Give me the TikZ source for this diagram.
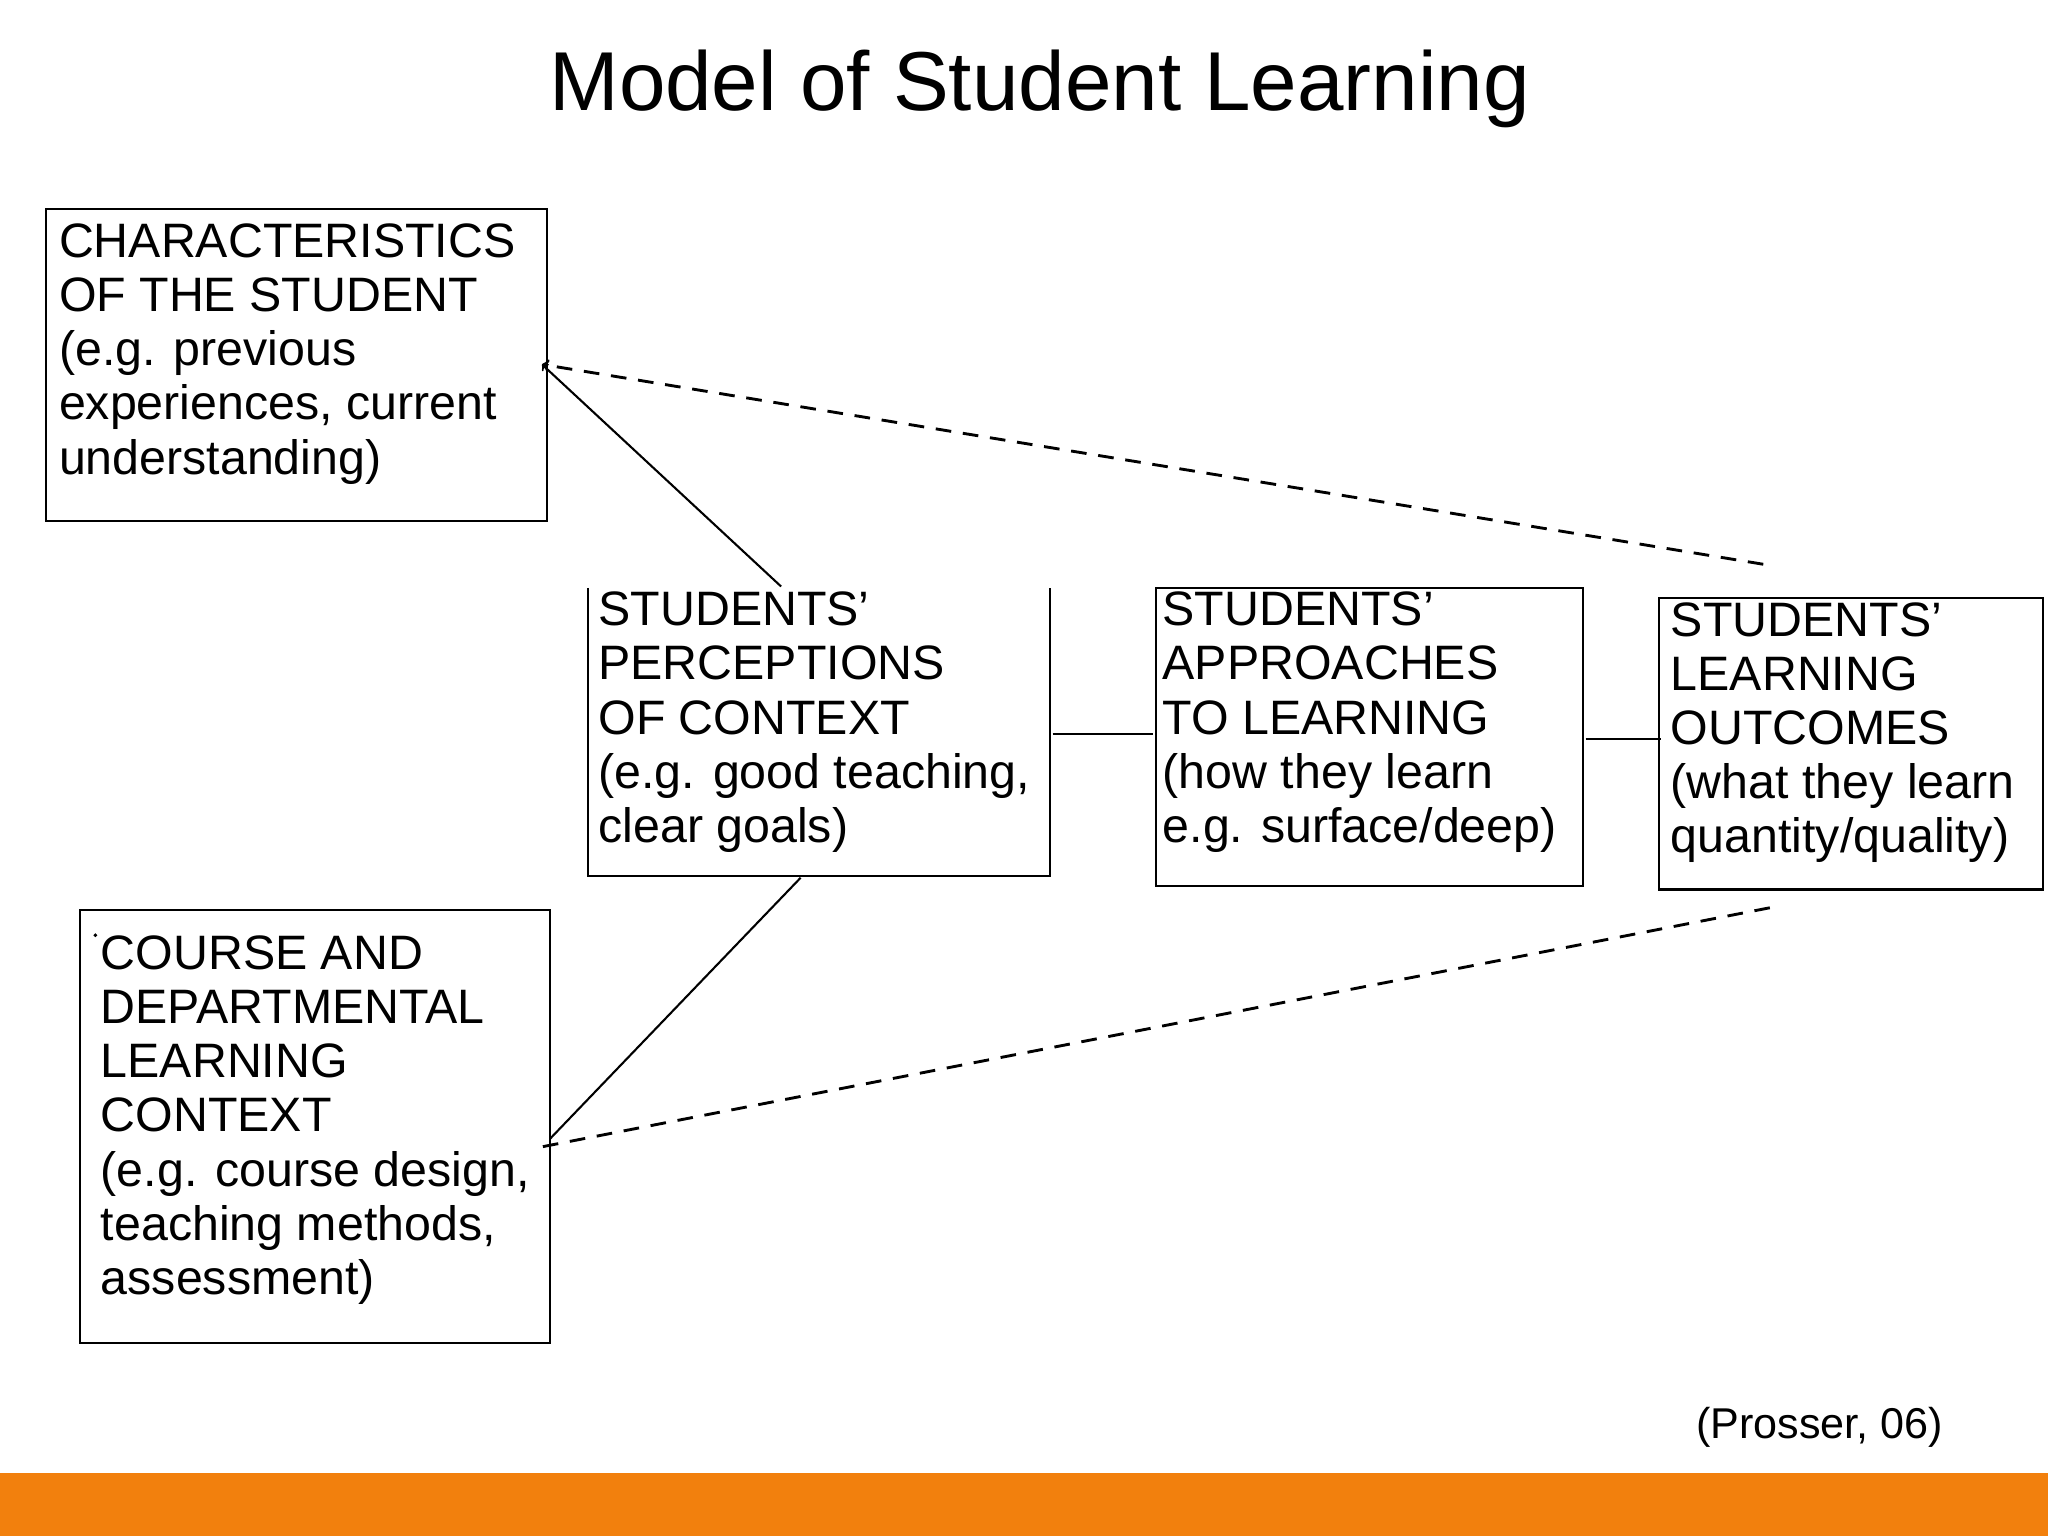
\documentclass[tikz,border=0pt]{standalone}
\usepackage{fontspec}
\setmainfont{Liberation Sans}
\begin{document}
\begin{tikzpicture}[x=1pt,y=-1pt,
  bx/.style={draw,line width=1.6pt},
  txt/.style={anchor=north west,align=left,inner sep=0pt,font=\fontsize{37}{41.5}\selectfont},
  ln/.style={line width=1.6pt},
  dl/.style={line width=2.2pt,dash pattern=on 12pt off 9pt}]
\useasboundingbox (0,0) rectangle (1568,1176);
\fill[white] (0,0) rectangle (1568,1176);
\fill[orange!60!brown!95!black,fill=orange!80!brown] (0,1128) rectangle (1568,1176);
\node[anchor=center,font=\fontsize{64}{70}\selectfont] (title) at (796,68) {Model of Student Learning};
\draw[bx] (35,160) rectangle (419,399);
\node[txt] (chart) at (45,171) {CHARACTERISTICS\\OF THE STUDENT\\(e.g. previous\\experiences, current\\understanding)};
\coordinate (charA) at (415,279);
\draw[bx] (450,450) -- (450,671) -- (804,671) -- (804,450);
\node[txt] (perc) at (458,453) {STUDENTS'\\PERCEPTIONS\\OF CONTEXT\\(e.g. good teaching,\\clear goals)};
\draw[bx] (885,450) rectangle (1212,678);
\node[txt] (appr) at (890,453) {STUDENTS'\\APPROACHES\\TO LEARNING\\(how they learn\\e.g. surface/deep)};
\draw[bx] (1270,458) rectangle (1564,681);
\node[txt] (outc) at (1279,461) {STUDENTS'\\LEARNING\\OUTCOMES\\(what they learn\\quantity/quality)};
\draw[bx] (61,697) rectangle (421,1028);
\node[txt] (course) at (77,716) {COURSE AND\\DEPARTMENTAL\\LEARNING\\CONTEXT\\(e.g. course design,\\teaching methods,\\assessment)};
\fill (73,716) circle (1.5pt);
\coordinate (p1) at (598,449);
\coordinate (p2) at (613,672);
\coordinate (cA) at (421,872);
\coordinate (cB) at (415,878);
\coordinate (o1) at (1350,432);
\coordinate (o2) at (1355,695);
\draw[ln,->] (p1) -- (charA);
\draw[dl,->] (o1) -- (charA);
\draw[ln] (p2) -- (cA);
\draw[dl] (o2) -- (cB);
\draw[ln] (806,562) -- (883,562);
\draw[ln] (1214,566) -- (1272,566);
\node[anchor=center,font=\fontsize{33}{36}\selectfont] (src) at (1393,1093) {(Prosser, 06)};
\end{tikzpicture}
\end{document}
